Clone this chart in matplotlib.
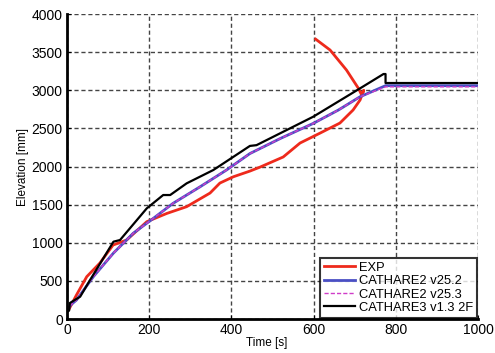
# Elevation vs time: experiment vs CATHARE versions
import matplotlib.pyplot as plt

plt.rcParams['font.family'] = ['Liberation Sans', 'DejaVu Sans']

# EXP (red) - goes up, then turns back up-left at the end
exp_t = [0, 5, 23, 48, 80, 112, 145, 194, 243, 291, 348, 372, 405, 445, 470,
         526, 567, 616, 664, 696, 713, 722, 717, 709, 680, 640, 605]
exp_z = [96, 130, 315, 555, 734, 970, 1036, 1276, 1385, 1473, 1652, 1783, 1866,
         1940, 1993, 2125, 2308, 2439, 2570, 2741, 2872, 3000, 2938, 3025, 3265,
         3528, 3670]

# CATHARE2 v25.2 / v25.3 (nearly identical)
c2_t = [0, 8, 23, 64, 113, 161, 210, 258, 324, 388, 445, 520, 599, 660, 713, 775, 1000]
c2_z = [100, 180, 249, 555, 865, 1124, 1320, 1517, 1735, 1954, 2170, 2370, 2565,
        2740, 2915, 3060, 3060]
c23_z = [100, 180, 249, 555, 865, 1124, 1320, 1517, 1735, 1954, 2170, 2370, 2565,
         2740, 2915, 3045, 3045]

# CATHARE3 v1.3 2F (black)
c3_t = [0, 5, 7, 32, 56, 113, 129, 194, 234, 251, 291, 356, 445, 461, 599,
        713, 770, 775, 775, 1000]
c3_z = [96, 110, 210, 293, 511, 1014, 1036, 1451, 1626, 1626, 1779, 1954, 2270,
        2280, 2653, 3025, 3213, 3213, 3095, 3095]

fig = plt.figure(figsize=(4.95, 3.53), dpi=100)
ax = fig.add_axes([0.1354, 0.0963, 0.8303, 0.864])

ax.plot(exp_t, exp_z, color='#ee2a1c', lw=2, label='EXP')
ax.plot(c2_t, c2_z, color='#4a4fc4', lw=2, label='CATHARE2 v25.2')
ax.plot(c2_t, c23_z, color='#d03cc8', lw=1, ls=(0, (3, 1.5)), label='CATHARE2 v25.3')
ax.plot(c3_t, c3_z, color='black', lw=1.6, label='CATHARE3 v1.3 2F')

ax.set_xlim(0, 1000)
ax.set_ylim(0, 4000)
ax.set_xticks(range(0, 1001, 200))
ax.set_yticks(range(0, 4001, 500))
ax.grid(True, color='#444444', ls=(0, (3, 2)), lw=1)
ax.set_axisbelow(True)

for s in ['top', 'right']:
    ax.spines[s].set_visible(False)
for s in ['left', 'bottom']:
    ax.spines[s].set_linewidth(2)
ax.tick_params(direction='in', length=3, labelsize=10, pad=3)

ax.set_xlabel('Time [s]', fontsize=8.5)
ax.set_ylabel('Elevation [mm]', fontsize=8.5, labelpad=2)
ax.xaxis.set_label_coords(0.485, -0.06)

leg = ax.legend(loc='lower right', fontsize=9.3, frameon=True, fancybox=False,
                edgecolor='black', handlelength=2.4, handletextpad=0.3,
                borderpad=0.3, labelspacing=0.1, borderaxespad=0.1)
leg.get_frame().set_linewidth(1.5)

fig.savefig('out.png', dpi=100)
